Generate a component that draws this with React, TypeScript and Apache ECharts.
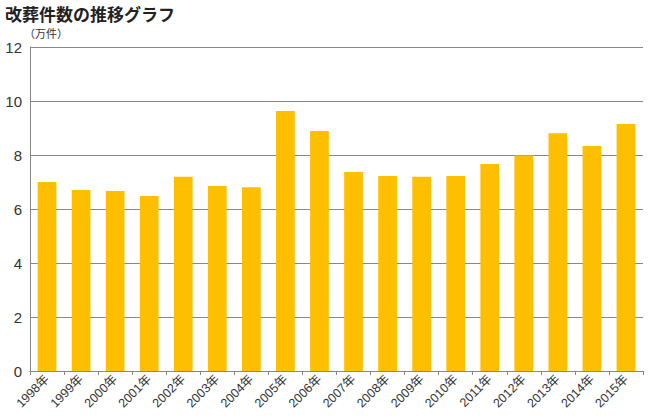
import React, { useEffect, useRef } from "react";
import * as echarts from "echarts";

const categories = ["1998年","1999年","2000年","2001年","2002年","2003年","2004年","2005年","2006年","2007年","2008年","2009年","2010年","2011年","2012年","2013年","2014年","2015年"];
const values = [7.0, 6.7, 6.67, 6.48, 7.19, 6.85, 6.81, 9.63, 8.89, 7.37, 7.22, 7.19, 7.22, 7.67, 7.98, 8.81, 8.33, 9.15];
const yTicks = { min: 0, max: 12, interval: 2 };

const FONT = "'Liberation Sans', 'Noto Sans CJK JP', sans-serif";
const JFONT = "'Noto Sans CJK JP', sans-serif";

export default function App() {
  const ref = useRef<HTMLDivElement>(null);
  useEffect(() => {
    if (!ref.current) return;
    const chart = echarts.init(ref.current, null, { renderer: "svg" });
    chart.setOption({
      animation: false,
      textStyle: { fontFamily: FONT },
      title: {
        text: "改葬件数の推移グラフ",
        left: 0,
        top: 0,
        textStyle: { fontSize: 17, fontWeight: "bold", color: "#222", fontFamily: JFONT },
      },
      graphic: [
        {
          type: "text",
          left: 24,
          top: 27,
          style: { text: "（万件）", fontSize: 11, fill: "#333", fontFamily: JFONT },
        },
      ],
      grid: { left: 30, right: 7, top: 47, bottom: 49, containLabel: false },
      xAxis: {
        type: "category",
        data: categories,
        axisLine: { show: true, lineStyle: { color: "#888", width: 1 } },
        axisTick: { show: true, alignWithLabel: false, length: 4, lineStyle: { color: "#888" } },
        axisLabel: { rotate: 45, fontSize: 12.5, color: "#333", margin: 6, interval: 0, fontFamily: FONT },
      },
      yAxis: {
        type: "value",
        min: yTicks.min,
        max: yTicks.max,
        interval: yTicks.interval,
        axisLine: { show: true, lineStyle: { color: "#888", width: 1 } },
        axisTick: { show: false },
        axisLabel: { fontSize: 15, color: "#333", margin: 8, fontFamily: FONT },
        splitLine: { show: true, lineStyle: { color: "#888", width: 1 } },
      },
      series: [
        {
          type: "bar",
          data: values,
          barWidth: "55%",
          itemStyle: { color: "#FDBF00" },
        },
      ],
    });
    return () => chart.dispose();
  }, []);
  return <div ref={ref} style={{ width: 650, height: 420, position: "absolute", left: 0, top: 0 }} />;
}
